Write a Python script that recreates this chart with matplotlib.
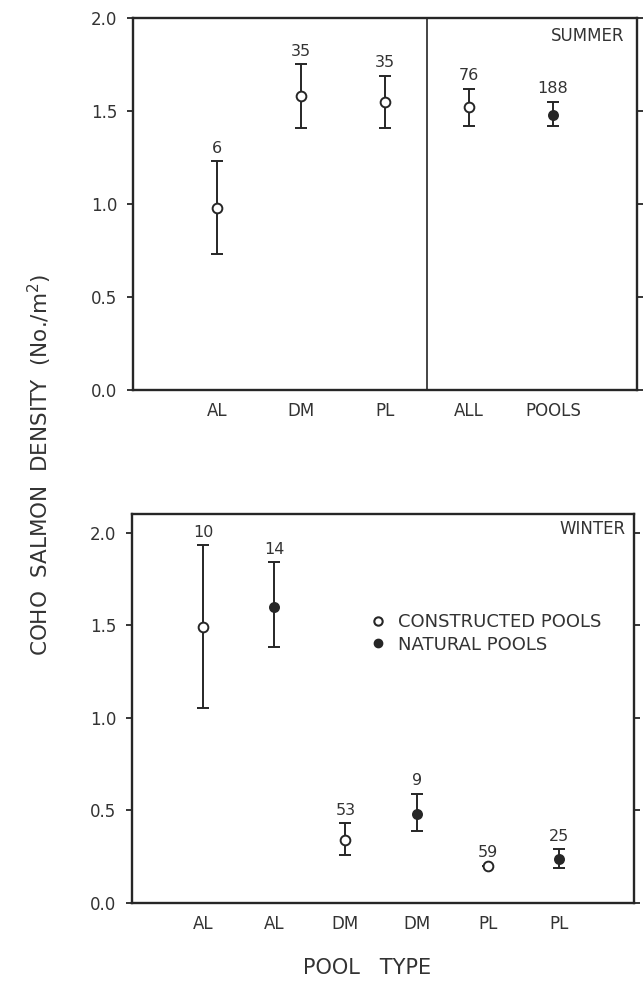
import matplotlib
matplotlib.use("Agg")
import matplotlib.pyplot as plt
from matplotlib.lines import Line2D

# summer panel
summer_labels = ['AL', 'DM', 'PL', 'ALL', 'POOLS']
summer_mean = [0.98, 1.58, 1.55, 1.52, 1.48]
summer_lo = [0.73, 1.41, 1.41, 1.42, 1.42]
summer_hi = [1.23, 1.75, 1.69, 1.62, 1.55]
summer_n = ['6', '35', '35', '76', '188']
summer_filled = [False, False, False, False, True]

# winter panel
winter_labels = ['AL', 'AL', 'DM', 'DM', 'PL', 'PL']
winter_mean = [1.49, 1.60, 0.34, 0.48, 0.20, 0.24]
winter_lo = [1.05, 1.38, 0.26, 0.39, 0.20, 0.19]
winter_hi = [1.93, 1.84, 0.43, 0.59, 0.20, 0.29]
winter_n = ['10', '14', '53', '9', '59', '25']
winter_filled = [False, True, False, True, False, True]

ink = '#262626'
txt = '#333333'
plt.rcParams['font.family'] = 'DejaVu Sans'

fig = plt.figure(figsize=(6.44, 9.83), dpi=100)
ax1 = fig.add_axes([0.2065, 0.6033, 0.7825, 0.3784])
ax2 = fig.add_axes([0.205, 0.0814, 0.779, 0.3957])


def draw(ax, labels, mean, lo, hi, n, filled):
    xs = list(range(1, len(labels) + 1))
    for x, m, l, h, t, f in zip(xs, mean, lo, hi, n, filled):
        ax.errorbar([x], [m], yerr=[[m - l], [h - m]], fmt='o', color=ink,
                    ms=7 if not f else 6.5, mfc=ink if f else 'white', mec=ink,
                    mew=1.4, elinewidth=1.4, capsize=4, capthick=1.4, zorder=3)
        ax.annotate(t, (x, h), xytext=(0, 4), textcoords='offset points',
                    ha='center', va='bottom', fontsize=11.5, color=txt)
    ax.set_xticks(xs)
    ax.set_xticklabels(labels)
    ax.set_yticks([0, 0.5, 1.0, 1.5, 2.0])
    ax.set_yticklabels(['0.0', '0.5', '1.0', '1.5', '2.0'])
    ax.tick_params(axis='x', length=0, pad=9, labelsize=12, colors=txt)
    ax.tick_params(axis='y', direction='out', length=4.5, width=1.3, pad=7,
                   labelsize=12, colors=txt, right=True)
    ax.tick_params(axis='y', color=ink)
    for s in ax.spines.values():
        s.set_linewidth(1.7)
        s.set_color(ink)


draw(ax1, summer_labels, summer_mean, summer_lo, summer_hi, summer_n, summer_filled)
ax1.set_xlim(0, 6.0)
ax1.set_ylim(0, 2.0)
ax1.axvline(3.5, color=ink, lw=1.2)
ax1.text(0.976, 0.975, 'SUMMER', transform=ax1.transAxes, ha='right', va='top',
         fontsize=12, color=txt)

draw(ax2, winter_labels, winter_mean, winter_lo, winter_hi, winter_n, winter_filled)
ax2.set_xlim(0, 7.05)
ax2.set_ylim(0, 2.1)
ax2.text(0.984, 0.985, 'WINTER', transform=ax2.transAxes, ha='right', va='top',
         fontsize=12, color=txt)

handles = [
    Line2D([], [], ls='none', marker='o', ms=6, mfc='white', mec=ink, mew=1.5),
    Line2D([], [], ls='none', marker='o', ms=6, mfc=ink, mec=ink),
]
ax2.legend(handles, ['CONSTRUCTED POOLS', 'NATURAL POOLS'], loc='upper left',
           bbox_to_anchor=(0.44, 0.787), frameon=False, fontsize=13,
           handlelength=1.0, handletextpad=0.6, labelspacing=0.25,
           labelcolor=txt)

fig.text(0.062, 0.527, 'COHO  SALMON  DENSITY  (No./m$^2$)', rotation=90,
         ha='center', va='center', fontsize=15.5, color=txt)
fig.text(0.57, 0.0153, 'POOL   TYPE', ha='center', va='center', fontsize=15,
         color=txt)

fig.savefig('out.png', dpi=100)
